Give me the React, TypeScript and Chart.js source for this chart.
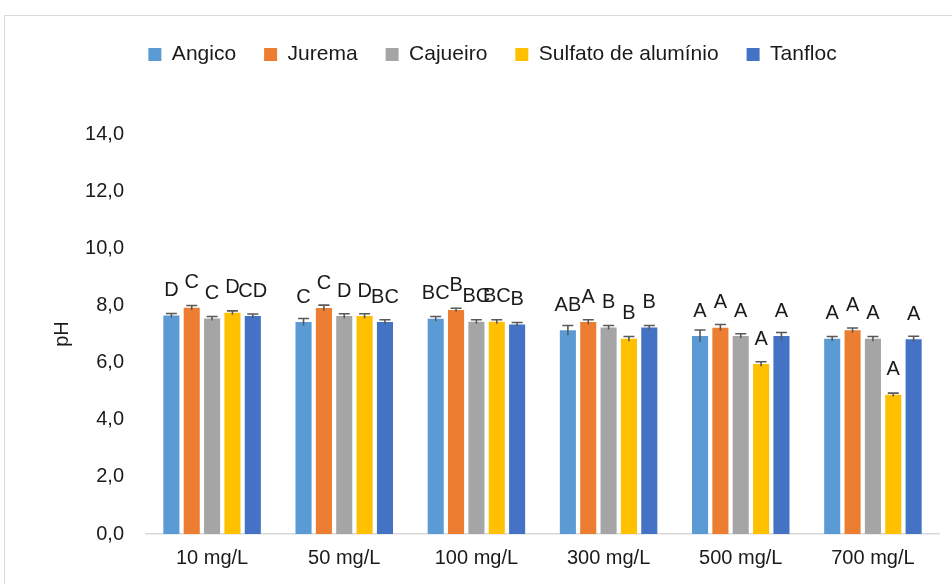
import React, { useEffect, useRef } from 'react';
import { Chart, registerables } from 'chart.js';

Chart.register(...registerables);

const categories = ['10 mg/L', '50 mg/L', '100 mg/L', '300 mg/L', '500 mg/L', '700 mg/L'];
const seriesNames = ['Angico', 'Jurema', 'Cajueiro', 'Sulfato de alumínio', 'Tanfloc'];
const seriesColors = ['#5B9BD5', '#ED7D31', '#A5A5A5', '#FFC000', '#4472C4'];

const angico = [7.65, 7.42, 7.53, 7.13, 6.93, 6.83];
const jurema = [7.92, 7.91, 7.84, 7.42, 7.22, 7.13];
const cajueiro = [7.54, 7.63, 7.43, 7.23, 6.93, 6.83];
const sulfato = [7.74, 7.63, 7.43, 6.83, 5.95, 4.87];
const tanfloc = [7.63, 7.42, 7.33, 7.23, 6.93, 6.82];

const angicoErr = [0.07, 0.12, 0.08, 0.17, 0.21, 0.08];
const juremaErr = [0.08, 0.1, 0.06, 0.08, 0.11, 0.08];
const cajueiroErr = [0.07, 0.08, 0.07, 0.07, 0.08, 0.08];
const sulfatoErr = [0.07, 0.08, 0.07, 0.08, 0.08, 0.06];
const tanflocErr = [0.07, 0.08, 0.07, 0.07, 0.12, 0.1];

const angicoLetters = ['D', 'C', 'BC', 'AB', 'A', 'A'];
const juremaLetters = ['C', 'C', 'B', 'A', 'A', 'A'];
const cajueiroLetters = ['C', 'D', 'BC', 'B', 'A', 'A'];
const sulfatoLetters = ['D', 'D', 'BC', 'B', 'A', 'A'];
const tanflocLetters = ['CD', 'BC', 'B', 'B', 'A', 'A'];

const yMin = 0;
const yMax = 14;
const yStep = 2;
const yTitle = 'pH';

const seriesValues = [angico, jurema, cajueiro, sulfato, tanfloc];
const seriesErrors = [angicoErr, juremaErr, cajueiroErr, sulfatoErr, tanflocErr];
const seriesLetters = [angicoLetters, juremaLetters, cajueiroLetters, sulfatoLetters, tanflocLetters];

const FONT = "'Liberation Sans', Arial, sans-serif";
const TEXT = '#1a1a1a';

const legendSpacer = {
  id: 'legendSpacer',
  beforeInit(chart: any) {
    const legend = chart.legend;
    if (!legend) return;
    const origFit = legend.fit;
    legend.fit = function () {
      origFit.call(legend);
      legend.height += 59;
    };
  },
};

const errorBars = {
  id: 'errorBars',
  afterDatasetsDraw(chart: any) {
    const ctx = chart.ctx;
    const yScale = chart.scales.y;
    ctx.save();
    ctx.strokeStyle = '#595959';
    ctx.lineWidth = 1.6;
    chart.data.datasets.forEach((ds: any, i: number) => {
      const meta = chart.getDatasetMeta(i);
      meta.data.forEach((el: any, j: number) => {
        const v = ds.data[j];
        const e = seriesErrors[i][j];
        const yTop = yScale.getPixelForValue(v + e);
        const yBot = yScale.getPixelForValue(v - e);
        ctx.beginPath();
        ctx.moveTo(el.x, yBot);
        ctx.lineTo(el.x, yTop);
        ctx.moveTo(el.x - 5.5, yTop);
        ctx.lineTo(el.x + 5.5, yTop);
        ctx.stroke();
      });
    });
    ctx.restore();
  },
};

const letterLabels = {
  id: 'letterLabels',
  afterDatasetsDraw(chart: any) {
    const ctx = chart.ctx;
    ctx.save();
    ctx.fillStyle = TEXT;
    ctx.font = `20px ${FONT}`;
    ctx.textAlign = 'center';
    ctx.textBaseline = 'middle';
    chart.data.datasets.forEach((ds: any, i: number) => {
      const meta = chart.getDatasetMeta(i);
      meta.data.forEach((el: any, j: number) => {
        ctx.fillText(seriesLetters[i][j], el.x, el.y - 25);
      });
    });
    ctx.restore();
  },
};

export default function App() {
  const ref = useRef<HTMLCanvasElement | null>(null);

  useEffect(() => {
    if (!ref.current) return;
    const chart = new Chart(ref.current, {
      type: 'bar',
      data: {
        labels: categories,
        datasets: seriesNames.map((name, i) => ({
          label: name,
          data: seriesValues[i],
          backgroundColor: seriesColors[i],
          borderWidth: 0,
          categoryPercentage: 0.77,
          barPercentage: 0.79,
        })),
      },
      options: {
        responsive: false,
        devicePixelRatio: 1,
        animation: false,
        layout: { padding: { left: 41, right: 45, top: 0, bottom: 32 } },
        plugins: {
          legend: {
            position: 'top',
            labels: {
              boxWidth: 13,
              boxHeight: 13,
              padding: 28,
              color: TEXT,
              font: { family: FONT, size: 21 },
            },
          },
          tooltip: { enabled: false },
          title: { display: false },
        },
        scales: {
          x: {
            grid: { display: false, drawTicks: false },
            border: { display: true, color: '#d9d9d9', width: 1.5 },
            ticks: {
              color: TEXT,
              padding: 12,
              font: { family: FONT, size: 20 },
              maxRotation: 0,
            },
          },
          y: {
            min: yMin,
            max: yMax,
            grid: { display: false, drawTicks: false },
            border: { display: false },
            afterFit(scale: any) {
              scale.width = 100;
            },
            ticks: {
              stepSize: yStep,
              padding: 22,
              color: TEXT,
              font: { family: FONT, size: 20 },
              callback: (v: any) => Number(v).toFixed(1).replace('.', ','),
            },
            title: {
              display: true,
              text: yTitle,
              color: TEXT,
              font: { family: FONT, size: 20 },
              padding: { top: 4, bottom: 4 },
            },
          },
        },
      },
      plugins: [legendSpacer, errorBars, letterLabels],
    } as any);
    return () => chart.destroy();
  }, []);

  return (
    <div
      style={{
        position: 'fixed',
        left: 0,
        top: 0,
        width: 952,
        height: 584,
        overflow: 'hidden',
        background: '#fff',
      }}
    >
      <div
        style={{
          position: 'absolute',
          left: 4,
          top: 15,
          width: 979,
          height: 598,
          border: '1px solid #d9d9d9',
          background: '#fff',
        }}
      >
        <canvas ref={ref} width={979} height={598} style={{ display: 'block', width: 979, height: 598 }} />
      </div>
    </div>
  );
}
